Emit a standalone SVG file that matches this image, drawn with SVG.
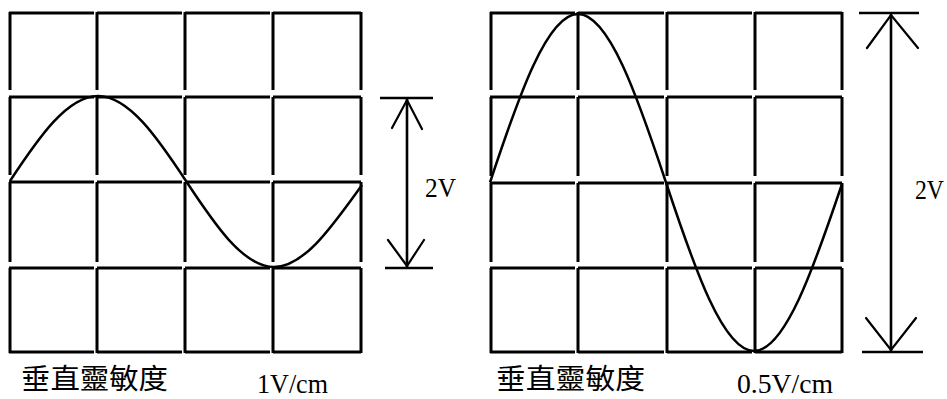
<svg xmlns="http://www.w3.org/2000/svg" width="947" height="399" viewBox="0 0 947 399">
<style>
.grid{fill:none;stroke:#000;stroke-width:3;stroke-linecap:butt}
.wave{fill:none;stroke:#000;stroke-width:2.5}
.dim{fill:none;stroke:#000;stroke-width:2.6}
.head{fill:none;stroke:#000;stroke-width:2.2;stroke-linecap:round;stroke-linejoin:miter}
.lat{font-family:"Liberation Serif","DejaVu Serif",serif;font-size:27px;fill:#000}
.cjk{font-family:"Noto Sans CJK TC","Noto Sans CJK SC",sans-serif;font-size:28px;fill:#000}
</style>
<rect width="947" height="399" fill="#fff"/>
<g id="left-scope">
<path class="grid" d="M9,13H94M97,13H182M185,13H270M273,13H361
M9,97H94M97,97H182M185,97H270M273,97H361
M9,182H94M97,182H182M185,182H270M273,182H361
M9,268H94M97,268H182M185,268H270M273,268H361
M9,352H94M97,352H182M185,352H270M273,352H361
M10,12V90M10,97V175M10,182V262M10,268V353
M97,12V90M97,97V175M97,182V262M97,268V353
M185,12V90M185,97V175M185,182V262M185,268V353
M273,12V90M273,97V175M273,182V262M273,268V353
M361,12V90M361,97V175M361,182V262M361,268V353"/>
<path class="wave" d="M10,181C38.7,137.5 67.3,96 98,96C128.7,96 157.3,137.5 186,181C214.7,224.5 243.3,267 274,267C304.7,267 333.3,224.5 362,185"/>
</g>
<g id="right-scope">
<path class="grid" d="M490,13H575M578,13H664M667,13H752M755,13H842
M490,97H575M578,97H664M667,97H752M755,97H842
M490,183H575M578,183H664M667,183H752M755,183H842
M490,268H575M578,268H664M667,268H752M755,268H842
M490,352H575M578,352H664M667,352H752M755,352H842
M491,12V90M491,97V176M491,183V262M491,268V353
M578,12V90M578,97V176M578,183V262M578,268V353
M667,12V90M667,97V176M667,183V262M667,268V353
M755,12V90M755,97V176M755,183V262M755,268V353
M842,12V90M842,97V176M842,183V262M842,268V353"/>
<path class="wave" d="M490,182.5C518.7,95.7 547.3,14 578,14C608.7,14 637.3,95.7 666,182.5C694.7,269.3 723.3,351 754,351C784.7,351 813.3,269.3 842,184"/>
</g>
<g id="connectors">
<g id="left-dim">
<path class="dim" d="M380,98H433M385,268H433M407,98V268"/>
<path class="head" d="M392,128L407,100L422,129M388,240L407,266L424,240"/>
</g>
<g id="right-dim">
<path class="dim" d="M859,13H919M862,352H923M891,13V352"/>
<path class="head" d="M867,48L891,15L918,48M866,318L891,350L916,318"/>
</g>
</g>
<g id="labels">
<text class="lat" x="425" y="197" textLength="31" lengthAdjust="spacingAndGlyphs">2V</text>
<text class="lat" x="915" y="199" textLength="29" lengthAdjust="spacingAndGlyphs">2V</text>
<text class="cjk" x="21" y="389" textLength="147" lengthAdjust="spacingAndGlyphs">垂直靈敏度</text>
<text class="cjk" x="496" y="389" textLength="149" lengthAdjust="spacingAndGlyphs">垂直靈敏度</text>
<text class="lat" x="257" y="393" textLength="71" lengthAdjust="spacingAndGlyphs">1V/cm</text>
<text class="lat" x="737" y="393" textLength="96" lengthAdjust="spacingAndGlyphs">0.5V/cm</text>
</g>
</svg>
